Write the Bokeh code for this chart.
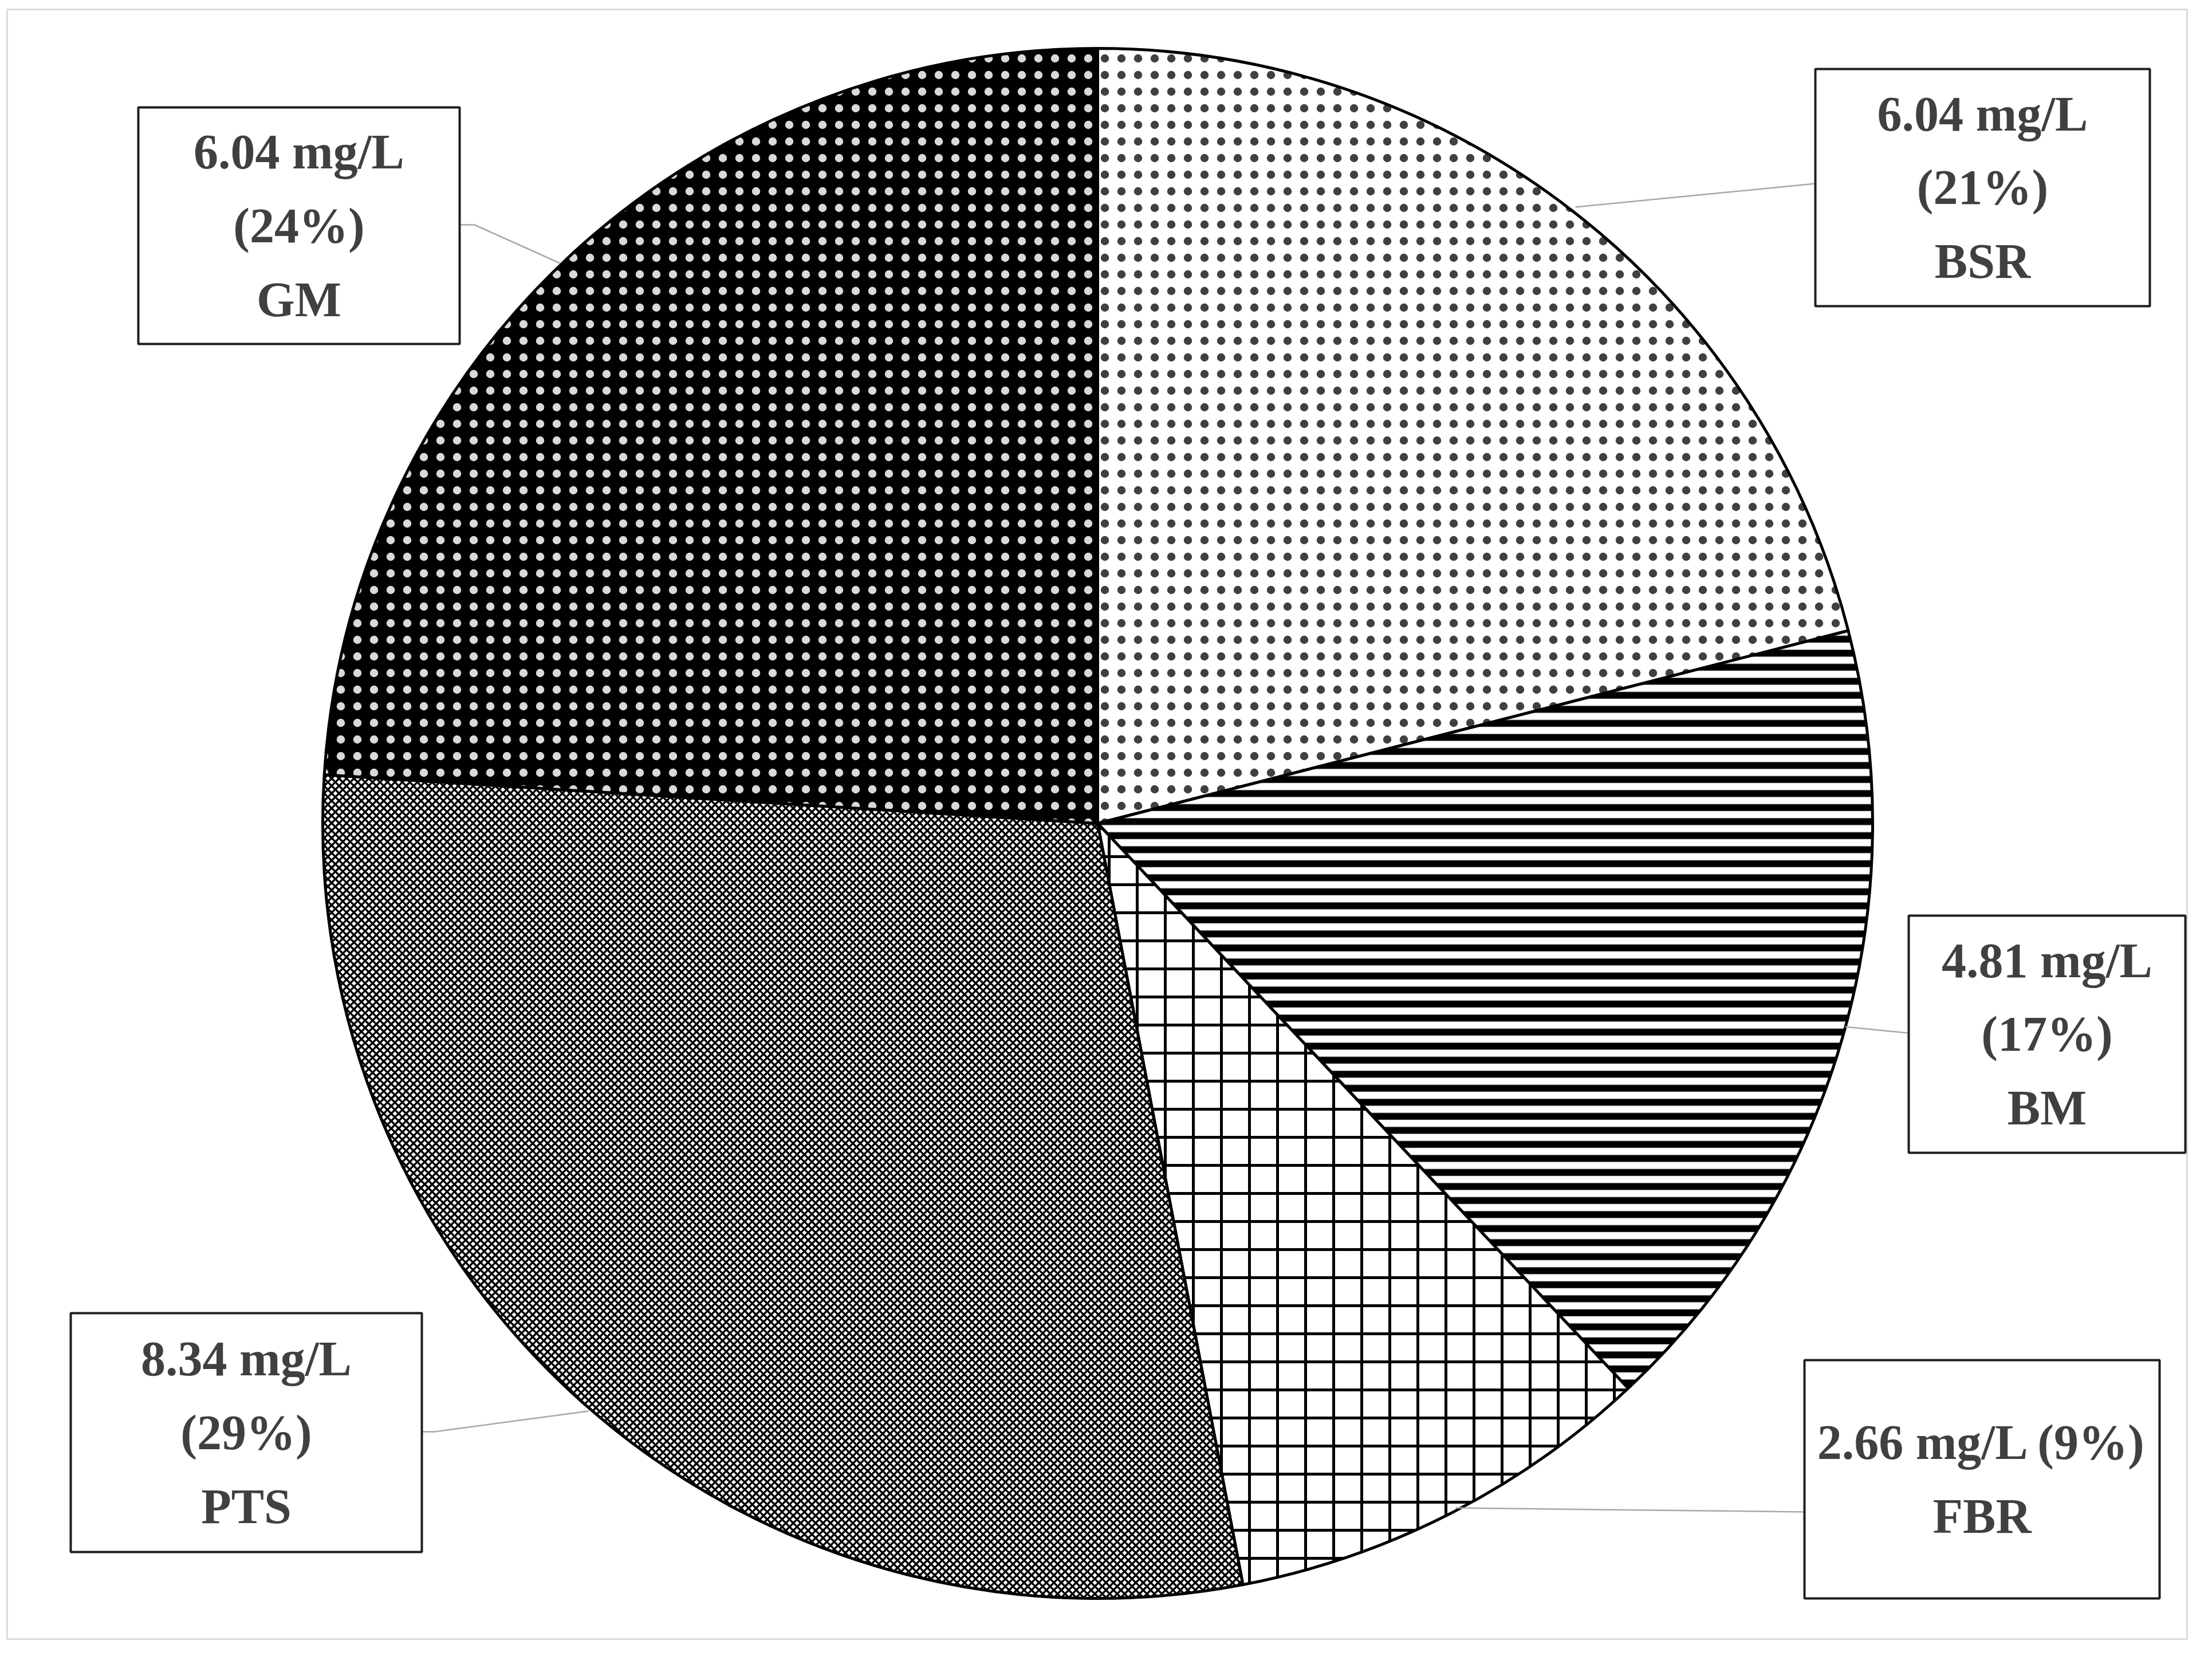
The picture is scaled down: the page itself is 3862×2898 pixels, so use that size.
from bokeh.plotting import figure
from bokeh.models import Range1d
from bokeh.core.properties import value
from bokeh.embed import file_html
from bokeh.resources import INLINE

# ---- data ----
sources = ["BSR", "BM", "FBR", "PTS", "GM"]
conc_mg_l = [6.04, 4.81, 2.66, 8.34, 6.04]
percent = [21, 17, 9, 29, 24]

# ---- styles ----
fill_colors = ["white", "white", "white", "white", "black"]
hatch_patterns = ["dot", "horizontal_line", "cross", "diagonal_cross", "dot"]
hatch_colors = ["black", "black", "black", "black", "white"]
hatch_scales = [29, 24.5, 49, 13, 29]
hatch_weights = [0.5, 12, 5, 3.5, 0.5]
hatch_alphas = [0.75, 1, 1, 1, 0.85]
label_inline = [False, False, True, False, False]

# ---- layout (reference pixel coordinates, y downward) ----
W, H = 3862, 2898
CX, CY, R = 1924, 1445, 1353
boxes = [(3177, 128, 3761, 542), (3340, 1606, 3823, 2020), (3158, 2382, 3778, 2798),
         (131, 2300, 744, 2717), (249, 195, 810, 608)]
leaders = [[(3177, 328), (2758, 369)], [(3340, 1811), (3229, 1800)],
           [(3158, 2647), (2549, 2640)], [(744, 2507), (766, 2507), (1035, 2471)],
           [(810, 400), (836, 400), (985, 467)]]

def fy(y):
    return H - y

p = figure(width=3846, height=2882, x_range=Range1d(8, 3854), y_range=Range1d(8, 2890),
           output_backend="svg", toolbar_location=None, min_border=0)
p.axis.visible = False
p.grid.visible = False
p.outline_line_color = None
p.background_fill_color = "white"
p.border_fill_color = "white"

# outer frame
p.quad(left=[20], right=[3826], top=[fy(24)], bottom=[fy(2869)], fill_color=None,
       line_color="#dcdcdc", line_width=3)

# wedges
cum = 0
starts, ends = [], []
for pc in percent:
    starts.append(90 - 3.6 * cum)
    cum += pc
    ends.append(90 - 3.6 * cum)

for i in range(len(sources)):
    p.wedge(x=[CX], y=[fy(CY)], radius=R, start_angle=[starts[i]], end_angle=[ends[i]],
            start_angle_units="deg", end_angle_units="deg", direction="clock",
            fill_color=fill_colors[i], line_color="black", line_width=5,
            hatch_pattern=hatch_patterns[i], hatch_color=hatch_colors[i],
            hatch_scale=hatch_scales[i], hatch_weight=hatch_weights[i],
            hatch_alpha=hatch_alphas[i])

# leader lines
p.multi_line(xs=[[pt[0] for pt in l] for l in leaders],
             ys=[[fy(pt[1]) for pt in l] for l in leaders],
             line_color="#a8a8a8", line_width=2.5)

# label boxes
p.quad(left=[b[0] for b in boxes], right=[b[2] for b in boxes],
       top=[fy(b[1]) for b in boxes], bottom=[fy(b[3]) for b in boxes],
       fill_color="white", line_color="#1e1e1e", line_width=4)

labels = []
for s, c, pc, inl in zip(sources, conc_mg_l, percent, label_inline):
    if inl:
        labels.append(f"{c:.2f} mg/L ({pc}%)\n{s}")
    else:
        labels.append(f"{c:.2f} mg/L\n({pc}%)\n{s}")

p.text(x=[(b[0] + b[2]) / 2 for b in boxes], y=[fy((b[1] + b[3]) / 2) for b in boxes],
       text=labels, text_align="center", text_baseline="middle",
       text_font=value("Liberation Serif"), text_font_style="bold",
       text_font_size="86px", text_color="#404040", text_line_height=1.34)

open("out.html", "w").write(file_html(p, INLINE))
